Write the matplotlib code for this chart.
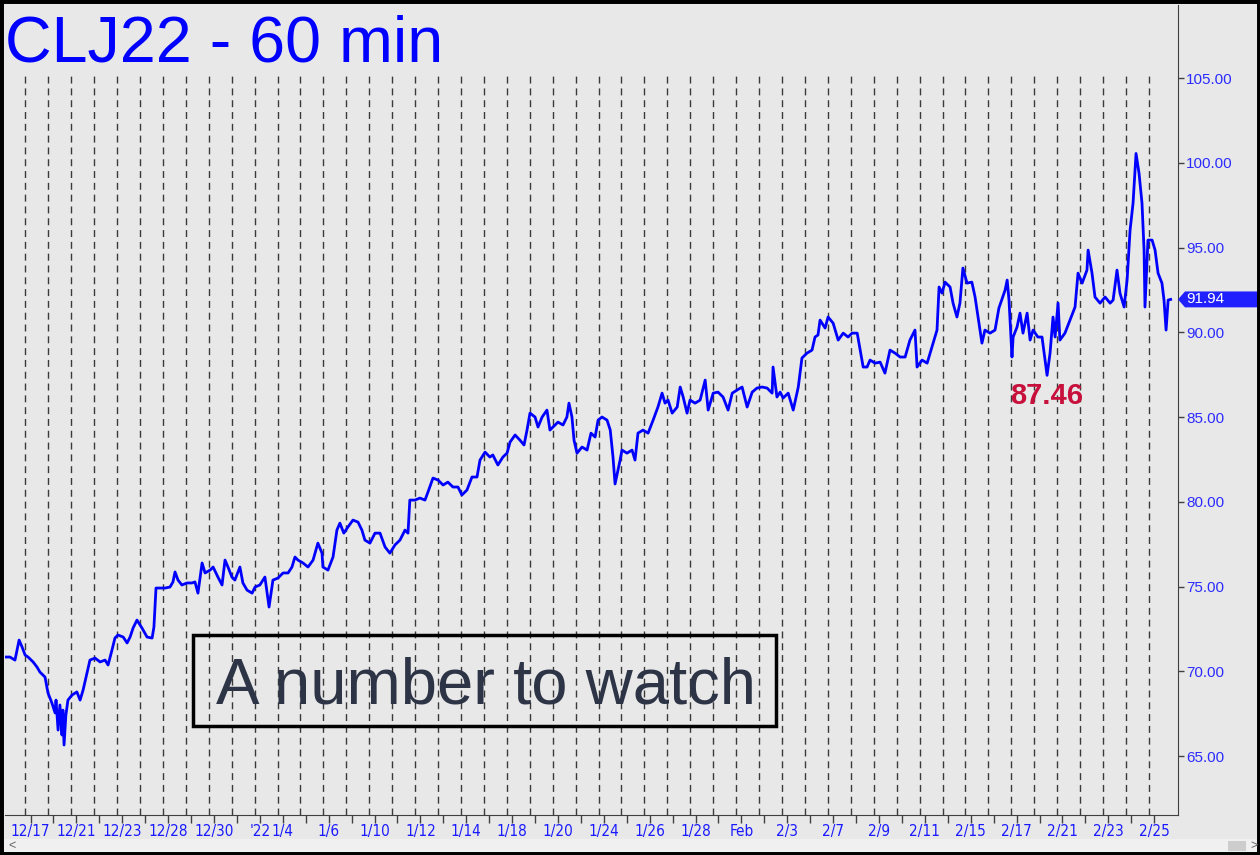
import matplotlib
matplotlib.use("Agg")
import matplotlib.pyplot as plt
from matplotlib import font_manager, transforms
from matplotlib.patches import Rectangle, Polygon

# hourly crude oil (CLJ22), sampled off the chart; x = trading-day index
day_pos = [-0.93, -0.67, -0.45, -0.27, -0.14, -0.01, 0.12, 0.34, 0.51, 0.64, 0.86, 0.99,
           1.16, 1.30, 1.34, 1.43, 1.51, 1.60, 1.64, 1.69, 1.77, 1.86, 2.04, 2.25, 2.39, 2.52,
           2.69, 2.82, 3.04, 3.26, 3.48, 3.61, 3.78, 3.91, 4.04, 4.27, 4.44, 4.57, 4.70, 4.87,
           5.09, 5.31, 5.53, 5.61, 5.70, 5.87, 6.09, 6.31, 6.44, 6.53, 6.66, 6.83, 7.05, 7.27,
           7.40, 7.53,
           7.71, 7.84, 8.06, 8.19, 8.40, 8.58, 8.71, 8.84, 9.01, 9.14, 9.36, 9.49, 9.67, 9.89,
           10.02, 10.23, 10.45, 10.63, 10.80, 11.02, 11.24, 11.46, 11.63, 11.76, 11.89, 12.11,
           12.33, 12.55, 12.76, 12.94, 12.98, 13.20, 13.42, 13.59, 13.72, 13.89, 14.07, 14.29,
           14.51, 14.68, 14.81, 15.03, 15.25, 15.47, 15.69, 15.90, 16.12, 16.34, 16.56, 16.69,
           16.77, 16.99, 17.21,
           17.43, 17.56, 17.78, 18.00, 18.22, 18.43, 18.65, 18.87, 19.04, 19.26, 19.48, 19.70,
           19.83, 20.05, 20.26, 20.39, 20.61, 20.83, 21.01, 21.14, 21.36, 21.57, 21.75, 21.88,
           22.01, 22.23, 22.36, 22.54, 22.75, 22.88, 23.10, 23.23, 23.45, 23.62, 23.71, 23.84,
           23.93, 24.06, 24.28, 24.50, 24.67, 24.85, 24.98, 25.15, 25.37, 25.51, 25.63, 25.72,
           25.94,
           26.02, 26.24, 26.46, 26.59, 26.72, 26.94, 27.16, 27.38, 27.59, 27.77, 27.90, 28.03,
           28.21, 28.43, 28.56, 28.69, 28.86, 28.99, 29.21, 29.43, 29.65, 29.78, 30.00, 30.21,
           30.43, 30.65, 30.83, 31.04, 31.26, 31.48, 31.70, 31.91, 32.13, 32.35, 32.57, 32.61,
           32.78, 32.92, 33.05, 33.27, 33.49, 33.71, 33.87, 34.09, 34.31, 34.44, 34.57,
           34.66, 34.88, 35.01, 35.23, 35.45, 35.67, 35.88, 36.06, 36.28, 36.41, 36.54, 36.71,
           36.84, 37.06, 37.28, 37.49, 37.71, 37.93, 38.15, 38.37, 38.58, 38.80, 38.89, 39.11,
           39.33, 39.54, 39.76, 39.85, 39.98, 40.11, 40.33, 40.46, 40.63, 40.76, 40.89, 41.07,
           41.28, 41.42, 41.55, 41.72, 41.85, 42.07, 42.29, 42.46,
           42.73, 42.82, 42.90, 43.03, 43.08, 43.25, 43.38, 43.51, 43.69, 43.82, 43.95, 44.16,
           44.34, 44.56, 44.69, 44.82, 44.91, 45.04, 45.12, 45.34, 45.56, 45.78, 45.91, 46.09,
           46.30, 46.35, 46.52, 46.65, 46.87, 47.09, 47.31, 47.44, 47.61, 47.74, 47.92, 48.05,
           48.18, 48.31, 48.44, 48.57, 48.70, 48.79, 48.83, 48.96, 49.14, 49.27, 49.40, 49.57,
           49.66, 49.75, 49.84, 49.95]

price = [70.84, 70.84, 70.66, 71.84, 71.43, 70.96, 70.84, 70.55, 70.25, 69.95, 69.66, 68.72,
         68.13, 67.54, 68.30, 66.53, 68.01, 66.24, 67.71, 65.65, 67.42, 68.30, 68.60, 68.78,
         68.30, 68.89, 69.90, 70.66, 70.78, 70.55, 70.66, 70.37, 71.25, 71.96, 72.14, 72.02,
         71.67, 72.02, 72.55, 73.02, 72.55, 72.02, 71.96, 72.61, 74.91, 74.91, 74.91, 74.97,
         75.27, 75.86, 75.38, 75.09, 75.21, 75.21, 75.27, 74.61,
         76.39, 75.80, 75.97, 76.15, 75.56, 75.09, 76.56, 76.15, 75.56, 75.38, 76.15, 75.21,
         74.79, 74.61, 74.97, 75.09, 75.56, 73.79, 75.38, 75.50, 75.80, 75.80, 76.15, 76.74,
         76.56, 76.39, 76.15, 76.56, 77.56, 76.97, 76.15, 75.97, 76.74, 78.33, 78.74, 78.15,
         78.51, 78.92, 78.80, 78.33, 77.74, 77.56, 78.15, 78.15, 77.33, 76.97, 77.45, 77.74,
         78.33, 78.15, 80.10, 80.10, 80.22,
         80.10, 80.57, 81.40, 81.28, 80.99, 81.16, 80.87, 80.87, 80.40, 80.69, 81.46, 81.46,
         82.46, 82.93, 82.64, 82.76, 82.17, 82.64, 82.87, 83.52, 83.94, 83.64, 83.35, 84.23,
         85.23, 85.00, 84.41, 85.00, 85.41, 84.23, 84.53, 84.70, 84.53, 85.00, 85.82, 85.00,
         83.64, 82.87, 83.23, 83.05, 84.05, 83.82, 84.82, 85.00, 84.82, 84.23, 82.64, 81.05,
         82.46,
         83.05, 82.87, 83.05, 82.46, 84.05, 84.23, 84.05, 84.82, 85.59, 86.41, 85.82, 86.00,
         85.23, 85.59, 86.77, 86.18, 85.23, 86.00, 85.82, 86.00, 87.18, 85.41, 86.41, 86.47,
         86.18, 85.41, 86.41, 86.59, 86.77, 85.59, 86.47, 86.71, 86.77, 86.71, 86.41, 87.95,
         86.18, 86.47, 86.12, 86.41, 85.41, 86.77, 88.48, 88.77, 88.95, 89.72, 89.84,
         90.72, 90.25, 90.90, 90.54, 89.54, 89.95, 89.72, 89.95, 89.95, 88.95, 87.95, 87.95,
         88.36, 88.18, 88.24, 87.59, 88.95, 88.77, 88.54, 88.54, 89.54, 90.13, 87.95, 88.36,
         88.18, 89.13, 90.13, 92.67, 92.31, 92.96, 92.67, 91.72, 90.90, 91.72, 93.79, 92.90,
         92.96, 92.08, 90.90, 89.36, 90.13, 89.95, 90.13, 91.43,
         92.49, 93.08, 91.90, 88.54, 89.72, 90.31, 91.13, 89.95, 91.13, 89.54, 90.13, 89.72,
         89.72, 87.46, 88.77, 90.90, 89.72, 91.72, 89.54, 89.95, 90.72, 91.49, 93.49, 92.90,
         93.67, 94.85, 93.49, 92.08, 91.72, 92.08, 91.72, 91.90, 93.67, 92.31, 91.49, 93.08,
         96.03, 97.62, 100.55, 99.39, 97.62, 94.85, 91.49, 95.44, 95.44, 94.85, 93.49, 92.90,
         91.90, 90.13, 91.90, 91.94]

date_labels = {0: "12/17", 2: "12/21", 4: "12/23", 6: "12/28", 8: "12/30", 10: "'22",
               11: "1/4", 13: "1/6", 15: "1/10", 17: "1/12", 19: "1/14", 21: "1/18",
               23: "1/20", 25: "1/24", 27: "1/26", 29: "1/28", 31: "Feb", 33: "2/3",
               35: "2/7", 37: "2/9", 39: "2/11", 41: "2/15", 43: "2/17", 45: "2/21",
               47: "2/23", 49: "2/25"}
n_days = 50
price_ticks = [65, 70, 75, 80, 85, 90, 95, 100, 105]
last_price = 91.94
low_mark = 87.46

plt.rcParams["font.family"] = ["Liberation Sans", "DejaVu Sans"]

# narrow face for the date axis (DejaVu Sans Condensed if it is there)
date_font = font_manager.FontProperties(family="DejaVu Sans", stretch="condensed", size=11)

W, H = 1260, 855
bg = "#e8e8e8"
fig = plt.figure(figsize=(W / 100, H / 100), dpi=100, facecolor=bg)
ax = fig.add_axes([5 / W, (H - 815) / H, (1178 - 5) / W, (815 - 5) / H])
ax.set_facecolor(bg)

for k in range(n_days):
    ax.axvline(k, ymax=(815 - 73) / 810, color="#3a3a3a", lw=1.0, dashes=(5, 3.5), zorder=1)

ax.plot(day_pos, price, color="#0000ff", lw=2.0, zorder=3)
ax.set_xlim(-0.885, 50.27)
ax.set_ylim(61.52, 109.31)

# right price axis
ax.yaxis.tick_right()
ax.set_yticks(price_ticks)
ax.set_yticklabels([f"{p:.2f}" for p in price_ticks], fontsize=11)
ax.tick_params(axis="y", direction="out", length=4, width=1, color="#404040",
               labelcolor="#2b2bff", pad=2)

# date axis
xt = [k + 0.23 for k in range(n_days)]
ax.set_xticks(xt)
ax.set_xticklabels([date_labels.get(k, "") for k in range(n_days)], fontproperties=date_font)
ax.tick_params(axis="x", direction="out", length=6, width=1, color="#404040",
               labelcolor="#1a1aff", pad=0.5)

for s in ["left", "top"]:
    ax.spines[s].set_visible(False)
ax.spines["right"].set_color("#404040")
ax.spines["bottom"].set_color("#404040")

# last price tag
tr = transforms.blended_transform_factory(fig.transFigure, ax.transData)
hh = 0.47
x0 = 1178 / W
x1 = 1185 / W
tag = Polygon([(x0, last_price), (x1, last_price + hh), (1.0, last_price + hh),
               (1.0, last_price - hh), (x1, last_price - hh)],
              closed=True, transform=tr, fc="#2020ff", ec="none", clip_on=False, zorder=5)
ax.add_patch(tag)
ax.text(1186 / W, last_price, f"{last_price:.2f}", transform=tr, color="white",
        fontsize=11, va="center", ha="left", zorder=6, clip_on=False)

ax.text(44.56, 86.24, f"{low_mark:.2f}", color="#c8103c", fontsize=21,
        fontweight="bold", ha="center", va="center")

# title and note
fig.text(5 / W, (H - 62) / H, "CLJ22 - 60 min", color="#0000ff", fontsize=46.5, va="baseline")
fig.patches.append(Rectangle((193 / W, (H - 726) / H), (776 - 193) / W, 91 / H,
                             transform=fig.transFigure, fill=False, ec="black", lw=2.5))
fig.text(216 / W, (H - 703) / H, "A number to watch", color="#2d3446", fontsize=47,
         va="baseline")

# scrollbar strip and frame
fig.patches.append(Rectangle((0, 3 / H), 1, 13 / H, transform=fig.transFigure,
                             fc="#f0f0f0", ec="none"))
fig.patches.append(Rectangle((1228 / W, 4 / H), 18 / W, 10 / H, transform=fig.transFigure,
                             fc="#cdcdcd", ec="none"))
fig.text(8 / W, 9 / H, "<", color="#606060", fontsize=9, va="center")
fig.text(1250 / W, 9 / H, ">", color="#606060", fontsize=9, va="center")
fig.patches.append(Rectangle((0, 0), 1, 1, transform=fig.transFigure, fill=False,
                             ec="black", lw=5))

fig.savefig("out.png", dpi=100, facecolor=bg)
